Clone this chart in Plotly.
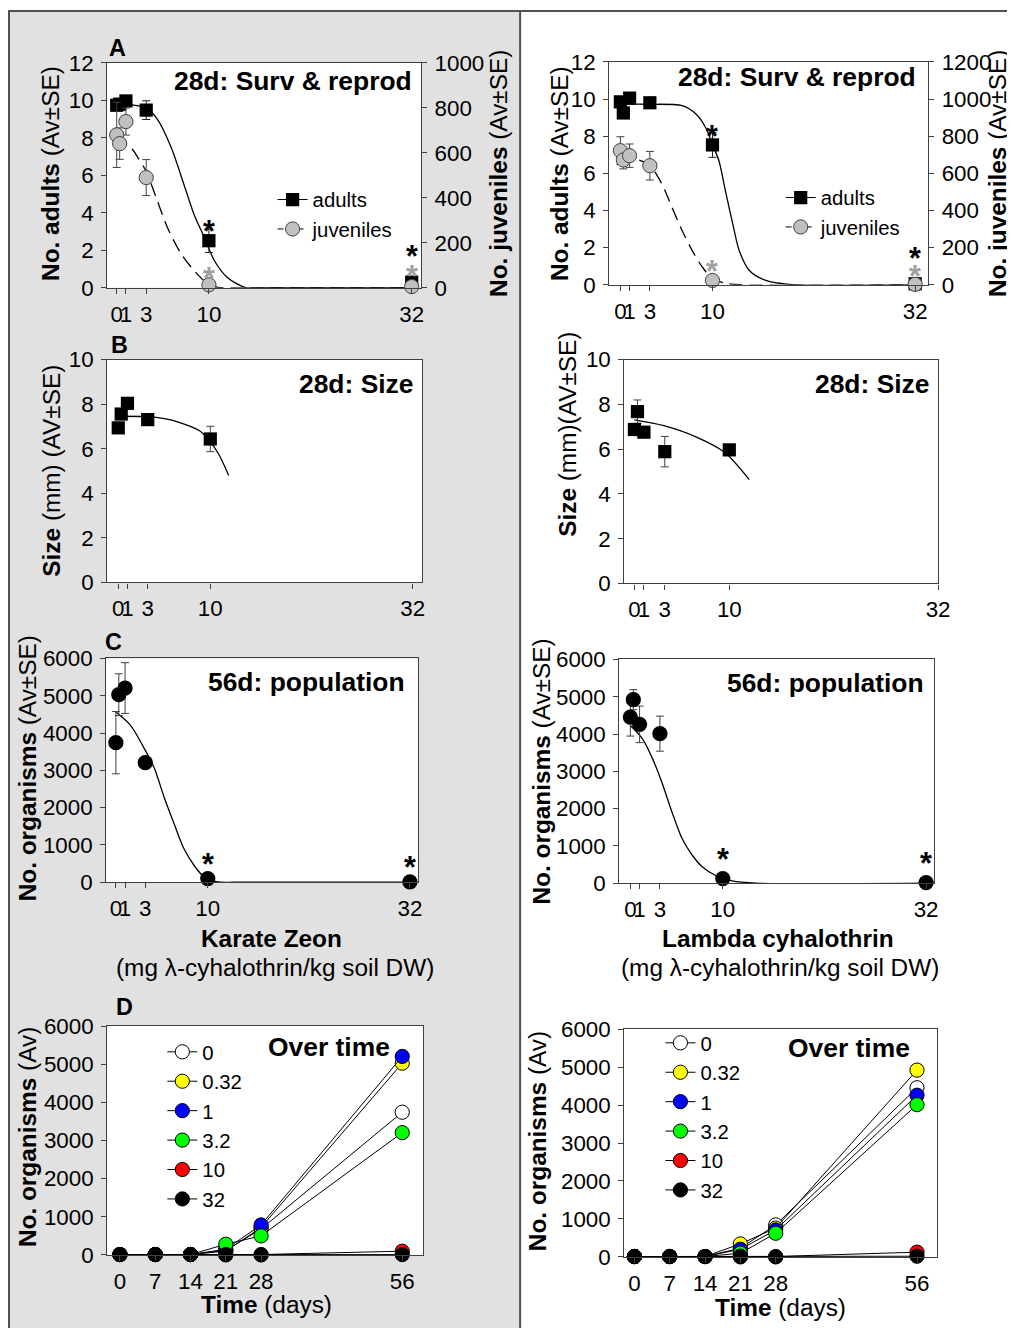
import plotly.graph_objects as go

W, H = 1015, 1328
FONT = "Liberation Sans, Arial, Helvetica, sans-serif"
AX = "#404040"

# The photographed page shows figure pixel p at OFF + SCALE * p.
# Layout positions below are given in target-picture pixels and converted here.
SX, SY, OX, OY = 0.986, 0.982, 9.0, 19.05
S = (SX + SY) / 2


def fx(rx):
    return (rx - OX) / SX


def fy(ry):
    return (ry - OY) / SY


def xdom(a, b):
    return [fx(a) / W, fx(b) / W]


def ydom(top, bottom):
    return [1 - fy(bottom) / H, 1 - fy(top) / H]


def pxx(x):
    return fx(x) / W


def pyy(y):
    return 1 - fy(y) / H


def fs(v):
    return v / S


# ---------------- data ----------------
conc = [0, 0.32, 1, 3.2, 10, 32]
conc_size = [0, 0.32, 1, 3.2, 10]
conc_tickvals = [0, 1, 3.2, 10, 32]
conc_ticktext = ["0", "1", "3", "10", "32"]
days = [0, 7, 14, 21, 28, 56]
dose_labels = ["0", "0.32", "1", "3.2", "10", "32"]
dose_colors = ["#ffffff", "#ffff00", "#0000ff", "#00ff00", "#ff0000", "#000000"]

# Panel A - Karate Zeon (left)
kz_adults = [9.74, 9.8, 9.97, 9.48, 2.51, 0.3]
kz_adults_se = [0.1, 0.1, 0.1, 0.5, 0.63, 0]
kz_juv = [680, 641, 739, 490, 13, 5]
kz_juv_se = [145, 70, 60, 80, 0, 0]
kz_adults_fit_x = [0, 1.2, 3.2, 4.4, 5.9, 7.3, 8.4, 9.5, 10.6, 12.0, 13.9, 16, 32]
kz_adults_fit_y = [9.8, 9.78, 9.6, 9.0, 7.5, 5.5, 3.9, 2.7, 1.44, 0.55, 0.02, 0, 0]
kz_juv_fit_x = [0, 1.7, 2.3, 3.2, 4.4, 5.5, 7.0, 8.4, 9.5, 10.95, 12, 32]
kz_juv_fit_y = [676, 616, 579, 517, 387, 268, 150, 76, 31, 2, 0, 0]

# Panel A - Lambda cyhalothrin (right)
la_adults = [9.85, 9.25, 10.05, 9.8, 7.53, 0.05]
la_adults_se = [0.1, 0.1, 0.1, 0.1, 0.67, 0]
la_juv = [722, 672, 695, 641, 23, 2]
la_juv_se = [75, 48, 63, 77, 0, 0]
la_adults_fit_x = [0, 3.2, 6.7, 8.2, 9.25, 10.0, 10.7, 11.4, 12.2, 12.9, 14.0, 15.8, 18.3, 32]
la_adults_fit_y = [9.72, 9.72, 9.64, 9.19, 8.47, 7.55, 6.68, 5.07, 3.28, 1.84, 0.77, 0.23, 0.02, 0]
la_juv_fit_x = [0, 1, 3.2, 4.5, 5.6, 6.7, 7.8, 8.9, 10.0, 11.4, 13, 32]
la_juv_fit_y = [705, 690, 641, 543, 417, 292, 184, 95, 32, 9, 0, 0]

# Panel B - size
kz_size = [6.94, 7.56, 8.04, 7.31, 6.44]
kz_size_se = [0.1, 0.15, 0.1, 0.1, 0.57]
kz_size_fit_x = [0, 3.1, 5, 6.6, 8.8, 9.9, 11.0, 12.0]
kz_size_fit_y = [7.46, 7.44, 7.35, 7.19, 6.82, 6.37, 5.70, 4.8]
la_size = [6.88, 7.68, 6.76, 5.89, 5.97]
la_size_se = [0.1, 0.52, 0.1, 0.68, 0.1]
la_size_fit_x = [0, 3.1, 6.6, 9.5, 12.1]
la_size_fit_y = [7.31, 7.05, 6.53, 5.86, 4.64]

# Panel C - 56 d population
kz_pop = [3742, 5028, 5205, 3206, 98, 8]
kz_pop_se = [835, 560, 680, 60, 0, 0]
kz_pop_fit_x = [0, 1.6, 3.1, 4.2, 5.3, 6.4, 7.4, 8.5, 9.6, 11.1, 13, 32]
kz_pop_fit_y = [4562, 4206, 3581, 3046, 2242, 1527, 903, 455, 142, 8, 0, 0]
la_pop = [4455, 4920, 4259, 4010, 125, 18]
la_pop_se = [510, 270, 490, 470, 0, 0]
la_pop_fit_x = [0, 1.3, 2.4, 3.4, 4.5, 5.6, 6.7, 7.8, 9.2, 11.0, 13.6, 32]
la_pop_fit_y = [4230, 3876, 3340, 2714, 1910, 1197, 750, 437, 214, 62, 0, 0]

# Panel D - over time (one list per dose)
kz_t_0 = [10, 10, 10, 120, 680, 3742]
kz_t_032 = [10, 10, 10, 100, 720, 5028]
kz_t_1 = [10, 10, 10, 150, 786, 5205]
kz_t_32d = [10, 10, 10, 280, 500, 3206]
kz_t_10 = [10, 10, 10, 10, 10, 98]
kz_t_32 = [10, 10, 10, 0, 0, 8]
la_t_0 = [10, 10, 10, 230, 842, 4455]
la_t_032 = [10, 10, 10, 342, 760, 4920]
la_t_1 = [10, 10, 10, 202, 710, 4259]
la_t_32d = [10, 10, 10, 97, 623, 4010]
la_t_10 = [10, 10, 10, 20, 10, 125]
la_t_32 = [10, 10, 10, 0, 0, 18]

kz_time = [kz_t_0, kz_t_032, kz_t_1, kz_t_32d, kz_t_10, kz_t_32]
la_time = [la_t_0, la_t_032, la_t_1, la_t_32d, la_t_10, la_t_32]

# ---------------- figure ----------------
fig = go.Figure()

SQ = fs(13)
CI = fs(14)
CI_C = fs(15)


def err(arr, color=AX):
    return dict(type="data", array=arr, visible=True, color=color, thickness=1, width=4)


def fit_trace(x, y, xa, ya, dash="solid"):
    return go.Scatter(x=x, y=y, mode="lines", xaxis=xa, yaxis=ya, showlegend=False,
                      hoverinfo="skip",
                      line=dict(color="black", width=1.3, shape="spline", smoothing=0.8, dash=dash))


JUV_DASH = "13px,7px"

for xa, ya, yr, ad, ads, jv, jvs, afx, afy, jfx, jfy, lg in [
    ("x", "y", "y9", kz_adults, kz_adults_se, kz_juv, kz_juv_se,
     kz_adults_fit_x, kz_adults_fit_y, kz_juv_fit_x, kz_juv_fit_y, "legend"),
    ("x2", "y2", "y10", la_adults, la_adults_se, la_juv, la_juv_se,
     la_adults_fit_x, la_adults_fit_y, la_juv_fit_x, la_juv_fit_y, "legend2"),
]:
    fig.add_trace(fit_trace(afx, afy, xa, ya))
    fig.add_trace(go.Scatter(x=conc, y=ad, mode="markers", xaxis=xa, yaxis=ya, showlegend=False,
                             cliponaxis=False, error_y=err(ads, "#202020"),
                             marker=dict(symbol="square", size=SQ, color="black")))
    fig.add_trace(fit_trace(jfx, jfy, xa, yr, dash=JUV_DASH))
    fig.add_trace(go.Scatter(x=conc, y=jv, mode="markers", xaxis=xa, yaxis=yr, showlegend=False,
                             cliponaxis=False, error_y=err(jvs),
                             marker=dict(symbol="circle", size=CI, color="#c0c0c0",
                                         line=dict(color="#404040", width=1))))
    fig.add_trace(go.Scatter(x=[None], y=[None], mode="lines+markers", name="adults",
                             xaxis=xa, yaxis=ya, legend=lg,
                             line=dict(color="black", width=1),
                             marker=dict(symbol="square", size=SQ, color="black")))
    fig.add_trace(go.Scatter(x=[None], y=[None], mode="lines+markers", name="juveniles",
                             xaxis=xa, yaxis=ya, legend=lg,
                             line=dict(color="black", width=1, dash="6px,4px"),
                             marker=dict(symbol="circle", size=CI, color="#c0c0c0",
                                         line=dict(color="#404040", width=1))))

for xa, ya, sz, szs, fxs, fys in [
    ("x3", "y3", kz_size, kz_size_se, kz_size_fit_x, kz_size_fit_y),
    ("x4", "y4", la_size, la_size_se, la_size_fit_x, la_size_fit_y),
]:
    fig.add_trace(fit_trace(fxs, fys, xa, ya))
    fig.add_trace(go.Scatter(x=conc_size, y=sz, mode="markers", xaxis=xa, yaxis=ya, showlegend=False,
                             cliponaxis=False, error_y=err(szs),
                             marker=dict(symbol="square", size=SQ, color="black")))

for xa, ya, pp, pps, fxs, fys in [
    ("x5", "y5", kz_pop, kz_pop_se, kz_pop_fit_x, kz_pop_fit_y),
    ("x6", "y6", la_pop, la_pop_se, la_pop_fit_x, la_pop_fit_y),
]:
    fig.add_trace(fit_trace(fxs, fys, xa, ya))
    fig.add_trace(go.Scatter(x=conc, y=pp, mode="markers", xaxis=xa, yaxis=ya, showlegend=False,
                             cliponaxis=False, error_y=err(pps),
                             marker=dict(symbol="circle", size=CI_C, color="black")))

for xa, ya, series, lg in [("x7", "y7", kz_time, "legend3"), ("x8", "y8", la_time, "legend4")]:
    for lab, col, vals in zip(dose_labels, dose_colors, series):
        fig.add_trace(go.Scatter(x=days, y=vals, mode="lines+markers", name=lab,
                                 xaxis=xa, yaxis=ya, legend=lg, cliponaxis=False,
                                 line=dict(color="black", width=1),
                                 marker=dict(symbol="circle", size=CI, color=col,
                                             line=dict(color="black", width=1))))

# ---------------- axes ----------------
tickfont = dict(family=FONT, size=fs(22), color="black")
base = dict(showline=True, linecolor=AX, linewidth=1.3, mirror=True, ticks="outside",
            ticklen=5, tickwidth=1.2, tickcolor=AX, showgrid=False, zeroline=False,
            tickfont=tickfont, fixedrange=True, tickangle=0)
base_y = dict(base, ticklabelstandoff=3)
base_x = dict(base, ticklabelstandoff=1)

conc_x = dict(base_x, tickmode="array", tickvals=conc_tickvals, ticktext=conc_ticktext)
day_x = dict(base_x, tickmode="array", tickvals=days, ticktext=[str(d) for d in days])

layout_axes = dict(
    xaxis=dict(conc_x, domain=xdom(108, 421), anchor="y", range=[-1.03, 33.0]),
    yaxis=dict(base_y, domain=ydom(62, 287), anchor="x", range=[0, 12], dtick=2, mirror=False),
    yaxis9=dict(base_y, overlaying="y", side="right", anchor="x", range=[0, 1000], dtick=200, mirror=False),
    xaxis2=dict(conc_x, domain=xdom(609, 927), anchor="y2", range=[-1.2, 33.4]),
    yaxis2=dict(base_y, domain=ydom(61, 284), anchor="x2", range=[0, 12], dtick=2, mirror=False),
    yaxis10=dict(base_y, overlaying="y2", side="right", anchor="x2", range=[0, 1200], dtick=200, mirror=False),
    xaxis3=dict(conc_x, domain=xdom(108, 422), anchor="y3", range=[-1.2, 33.0]),
    yaxis3=dict(base_y, domain=ydom(359, 582), anchor="x3", range=[0, 10], dtick=2),
    xaxis4=dict(conc_x, domain=xdom(624, 937), anchor="y4", range=[-1.06, 32.0]),
    yaxis4=dict(base_y, domain=ydom(359, 583), anchor="x4", range=[0, 10], dtick=2),
    xaxis5=dict(conc_x, domain=xdom(107, 418), anchor="y5", range=[-1.05, 32.87]),
    yaxis5=dict(base_y, domain=ydom(658, 882), anchor="x5", range=[0, 6000], dtick=1000),
    xaxis6=dict(conc_x, domain=xdom(619, 933), anchor="y6", range=[-1.19, 32.86]),
    yaxis6=dict(base_y, domain=ydom(659, 883), anchor="x6", range=[0, 6000], dtick=1000),
    xaxis7=dict(day_x, domain=xdom(108, 423), anchor="y7", range=[-2.52, 60.1]),
    yaxis7=dict(base_y, domain=ydom(1026, 1255), anchor="x7", range=[0, 6000], dtick=1000),
    xaxis8=dict(day_x, domain=xdom(624, 936), anchor="y8", range=[-1.99, 59.97]),
    yaxis8=dict(base_y, domain=ydom(1029, 1257), anchor="x8", range=[0, 6000], dtick=1000),
)

# ---------------- shapes (background panels) ----------------
shapes = [
    dict(type="rect", xref="paper", yref="paper", x0=pxx(10), x1=pxx(520), y0=pyy(1345), y1=pyy(10),
         fillcolor="#e1e1e1", line=dict(color="#505050", width=2), layer="below"),
    dict(type="line", xref="paper", yref="paper", x0=pxx(520), x1=pxx(1016), y0=pyy(10), y1=pyy(10),
         line=dict(color="#505050", width=2), layer="below"),
]
for xk, yk in [("xaxis", "yaxis"), ("xaxis3", "yaxis3"), ("xaxis5", "yaxis5"), ("xaxis7", "yaxis7")]:
    xd = layout_axes[xk]["domain"]
    yd = layout_axes[yk]["domain"]
    shapes.append(dict(type="rect", xref="paper", yref="paper", x0=xd[0], x1=xd[1], y0=yd[0], y1=yd[1],
                       fillcolor="white", line=dict(width=0), layer="below"))

# ---------------- annotations ----------------
ann = []


def txt(x, y, text, size, xanchor="center", angle=0, color="black"):
    ann.append(dict(x=pxx(x), y=pyy(y), xref="paper", yref="paper", text=text, showarrow=False,
                    xanchor=xanchor, yanchor="middle", textangle=angle,
                    font=dict(family=FONT, size=fs(size), color=color)))


def star(xref, yref, x, y, shift, color="black"):
    ann.append(dict(x=x, y=y, xref=xref, yref=yref, text="<b>*</b>", showarrow=False,
                    xanchor="center", yanchor="middle", yshift=fs(shift),
                    font=dict(family=FONT, size=fs(30), color=color)))


txt(118, 47, "<b>A</b>", 23)
txt(120, 344, "<b>B</b>", 23)
txt(114, 642, "<b>C</b>", 23)
txt(125, 1007, "<b>D</b>", 23)

txt(414, 80, "<b>28d: Surv &amp; reprod</b>", 26, "right")
txt(917, 76, "<b>28d: Surv &amp; reprod</b>", 26, "right")
txt(415, 383, "<b>28d: Size</b>", 26, "right")
txt(930, 383, "<b>28d: Size</b>", 26, "right")
txt(407, 682, "<b>56d: population</b>", 26, "right")
txt(925, 683, "<b>56d: population</b>", 26, "right")
txt(392, 1047, "<b>Over time</b>", 26, "right")
txt(911, 1048, "<b>Over time</b>", 26, "right")

txt(52, 173, "<b>No. adults</b> (Av±SE)", 24, angle=-90)
txt(499, 173, "<b>No. juveniles</b> (Av±SE)", 24, angle=-90)
txt(560, 173, "<b>No. adults</b> (Av±SE)", 24, angle=-90)
txt(997, 173, "<b>No. juveniles</b> (Av±SE)", 24, angle=-90)
txt(52, 470, "<b>Size</b> (mm) (AV±SE)", 24, angle=-90)
txt(567, 434, "<b>Size</b> (mm)(AV±SE)", 24, angle=-90)
txt(28, 768, "<b>No. organisms</b> (Av±SE)", 24, angle=-90)
txt(541, 771, "<b>No. organisms</b> (Av±SE)", 24, angle=-90)
txt(28, 1137, "<b>No. organisms</b> (Av)", 24, angle=-90)
txt(537, 1141, "<b>No. organisms</b> (Av)", 24, angle=-90)

txt(272, 938, "<b>Karate Zeon</b>", 24)
txt(275, 967, "(mg λ-cyhalothrin/kg soil DW)", 24)
txt(777, 938, "<b>Lambda cyhalothrin</b>", 24)
txt(779, 967, "(mg λ-cyhalothrin/kg soil DW)", 24)
txt(267, 1305, "<b>Time</b> (days)", 24)
txt(780, 1308, "<b>Time</b> (days)", 24)

star("x", "y", conc[4], kz_adults[4], 10)
star("x", "y9", conc[4], kz_juv[4], 7, "#a0a0a0")
star("x", "y", conc[5], kz_adults[5], 26)
star("x", "y9", conc[5], kz_juv[5], 10, "#a0a0a0")
star("x2", "y2", conc[4], la_adults[4], 9)
star("x2", "y10", conc[4], la_juv[4], 9, "#a0a0a0")
star("x2", "y2", conc[5], la_adults[5], 25)
star("x2", "y10", conc[5], la_juv[5], 8, "#a0a0a0")
star("x5", "y5", conc[4], kz_pop[4], 14)
star("x5", "y5", conc[5], kz_pop[5], 15)
star("x6", "y6", conc[4], la_pop[4], 19)
star("x6", "y6", conc[5], la_pop[5], 19)


# ---------------- legends ----------------
def leg(x, y):
    return dict(x=pxx(x), y=pyy(y), xanchor="left", yanchor="top", bgcolor="rgba(0,0,0,0)",
                borderwidth=0, font=dict(family=FONT, size=fs(20), color="black"),
                tracegroupgap=0, itemclick=False, itemdoubleclick=False)


fig.update_layout(
    width=W, height=H,
    margin=dict(l=0, r=0, t=0, b=0),
    paper_bgcolor="white", plot_bgcolor="white",
    font=dict(family=FONT, size=fs(20), color="black"),
    showlegend=True,
    legend=leg(273, 179),
    legend2=leg(780, 177),
    legend3=leg(163, 1032),
    legend4=leg(660, 1023),
    shapes=shapes,
    annotations=ann,
    **layout_axes,
)

fig.write_html("out.html", config={"displayModeBar": False})
